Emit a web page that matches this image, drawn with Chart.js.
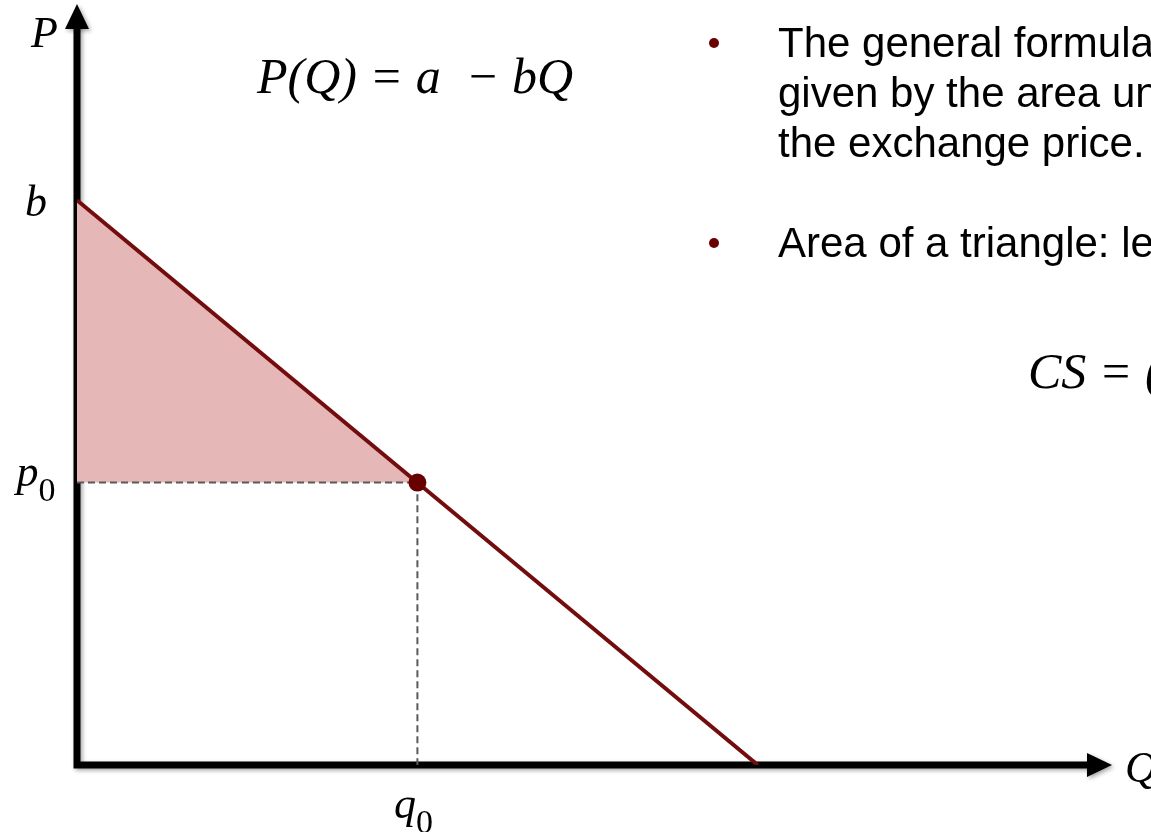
<!DOCTYPE html>
<html>
<head>
<meta charset="utf-8">
<script src="https://cdn.jsdelivr.net/npm/chart.js@4"></script>
<style>
  html, body { margin: 0; padding: 0; background: #fff; overflow: hidden; }
  #wrap { position: relative; width: 1151px; height: 832px; overflow: hidden; }
  canvas { position: absolute; left: 0; top: 0; }
  .math { position: absolute; font-family: "Liberation Serif", "DejaVu Serif", serif; font-style: italic; color: #000; white-space: nowrap; }
  .txt { position: absolute; font-family: "Liberation Sans", Arial, sans-serif; font-size: 42px; line-height: 50px; color: #000; white-space: nowrap; }
  .dot { position: absolute; width: 10px; height: 10px; border-radius: 50%; background: #6b0000; }
</style>
</head>
<body>
<div id="wrap">
  <canvas id="myChart" width="1151" height="832"></canvas>
  <div class="math" style="left:31px; top:11px; font-size:44px; line-height:44px;">P</div>
  <div class="math" style="left:1125px; top:746px; font-size:44px; line-height:44px;">Q</div>
  <div class="math" style="left:257px; top:51px; font-size:50px; line-height:50px;">P(Q) = a &nbsp;− bQ</div>
  <div class="dot" style="left:709px; top:38px;"></div>
  <div class="txt" style="left:778px; top:18px;">The general formula for CS is<br>given by the area under the demand curve<br>the exchange price.</div>
  <div class="dot" style="left:709px; top:238px;"></div>
  <div class="txt" style="left:778px; top:218px;">Area of a triangle: length × height × ½</div>
  <div class="math" style="left:1028px; top:346px; font-size:50px; line-height:50px;">CS = (b − p<span style="font-style:normal;font-size:34px;position:relative;top:10px;">0</span>) × q<span style="font-style:normal;font-size:34px;position:relative;top:10px;">0</span> × ½</div>
</div>
<script>
// demand curve points (Q, P)
const demandQ = [0, 2];
const demandP = [2, 0];
// exchange point
const q0 = 1;
const p0 = 1;
// tick positions and labels (letter_subscript)
const qTicks = [1];
const qLabels = ['q_0'];
const pTicks = [1, 2];
const pLabels = ['p_0', 'b'];

const axisMaxQ = 2.97;
const axisMaxP = 2.61;

const darkRed = '#730c0c';
const serif = '"Liberation Serif", "DejaVu Serif", serif';

// draws the two black axes with arrow heads
const axesPlugin = {
    id: 'axesArrows',
    beforeDatasetsDraw(chart) {
        const c = chart.ctx;
        const x = chart.scales.x;
        const y = chart.scales.y;
        const x0 = x.getPixelForValue(0);
        const y0 = y.getPixelForValue(0);
        const xEnd = x.getPixelForValue(axisMaxQ);
        const yEnd = y.getPixelForValue(axisMaxP);
        c.save();
        c.shadowColor = 'rgba(0,0,0,0.35)';
        c.shadowBlur = 4;
        c.shadowOffsetX = 2;
        c.shadowOffsetY = 2;
        c.strokeStyle = '#000';
        c.fillStyle = '#000';
        c.lineWidth = 7;
        c.lineCap = 'square';
        c.beginPath();
        c.moveTo(x0, yEnd);
        c.lineTo(x0, y0);
        c.lineTo(xEnd, y0);
        c.stroke();
        c.beginPath();
        c.moveTo(x0 - 12, yEnd + 1);
        c.lineTo(x0 + 12, yEnd + 1);
        c.lineTo(x0, yEnd - 24);
        c.closePath();
        c.fill();
        c.beginPath();
        c.moveTo(xEnd - 1, y0 - 12);
        c.lineTo(xEnd - 1, y0 + 12);
        c.lineTo(xEnd + 24, y0);
        c.closePath();
        c.fill();
        c.restore();
    }
};

// math-style tick labels: italic letter with upright subscript digit
function drawMathLabel(c, label, cx, cy, alignTop) {
    const [main, sub] = label.split('_');
    const subDrop = 15;
    c.font = 'italic 44px ' + serif;
    const m1 = c.measureText(main);
    let w2 = 0, top = -m1.actualBoundingBoxAscent, bottom = m1.actualBoundingBoxDescent;
    if (sub) {
        c.font = '34px ' + serif;
        const m2 = c.measureText(sub);
        w2 = m2.width;
        top = Math.min(top, subDrop - m2.actualBoundingBoxAscent);
        bottom = Math.max(bottom, subDrop + m2.actualBoundingBoxDescent);
    }
    const left = cx - (m1.width + w2) / 2;
    const base = alignTop ? cy - top : cy - (top + bottom) / 2;
    c.textBaseline = 'alphabetic';
    c.textAlign = 'left';
    c.fillStyle = '#000';
    c.font = 'italic 44px ' + serif;
    c.fillText(main, left, base);
    if (sub) {
        c.font = '34px ' + serif;
        c.fillText(sub, left + m1.width, base + subDrop);
    }
}

const labelPlugin = {
    id: 'mathTicks',
    afterDraw(chart) {
        const c = chart.ctx;
        const x = chart.scales.x;
        const y = chart.scales.y;
        c.save();
        y.ticks.forEach(t => {
            drawMathLabel(c, pLabels[pTicks.indexOf(t.value)], 36, y.getPixelForValue(t.value), false);
        });
        x.ticks.forEach(t => {
            drawMathLabel(c, qLabels[qTicks.indexOf(t.value)], x.getPixelForValue(t.value) - 4, x.top + 32, true);
        });
        c.restore();
    }
};

const ctx = document.getElementById('myChart').getContext('2d');
let myChart = new Chart(ctx, {
    type: 'scatter',
    data: {
        datasets: [
            {
                // exchange point
                data: [{ x: q0, y: p0 }],
                pointRadius: 9,
                pointBackgroundColor: '#680000',
                pointBorderWidth: 0
            },
            {
                // demand curve
                type: 'line',
                data: demandQ.map((q, i) => ({ x: q, y: demandP[i] })),
                borderColor: darkRed,
                borderWidth: 4,
                pointRadius: 0,
                fill: false
            },
            {
                // dashed guides
                type: 'line',
                data: [{ x: 0, y: p0 }, { x: q0, y: p0 }, { x: q0, y: 0 }],
                borderColor: '#5a5a5a',
                borderWidth: 2,
                borderDash: [7, 4],
                pointRadius: 0,
                fill: false
            },
            {
                // consumer surplus area
                type: 'line',
                data: [{ x: demandQ[0], y: demandP[0] }, { x: q0, y: p0 }],
                borderWidth: 0,
                pointRadius: 0,
                backgroundColor: '#e5b7b7',
                fill: { value: p0 }
            }
        ]
    },
    options: {
        responsive: false,
        animation: false,
        layout: { padding: { top: 28, right: 63, left: 0, bottom: 0 } },
        plugins: {
            legend: { display: false },
            tooltip: { enabled: false }
        },
        scales: {
            x: {
                type: 'linear',
                min: 0,
                max: axisMaxQ,
                grid: { display: false, drawTicks: false },
                border: { display: false },
                afterFit: s => { s.height = 67; },
                afterBuildTicks: s => { s.ticks = qTicks.map(v => ({ value: v })); },
                ticks: { display: false }
            },
            y: {
                type: 'linear',
                min: 0,
                max: axisMaxP,
                grid: { display: false, drawTicks: false },
                border: { display: false },
                afterFit: s => { s.width = 77; },
                afterBuildTicks: s => { s.ticks = pTicks.map(v => ({ value: v })); },
                ticks: { display: false }
            }
        }
    },
    plugins: [axesPlugin, labelPlugin]
});
</script>
</body>
</html>
